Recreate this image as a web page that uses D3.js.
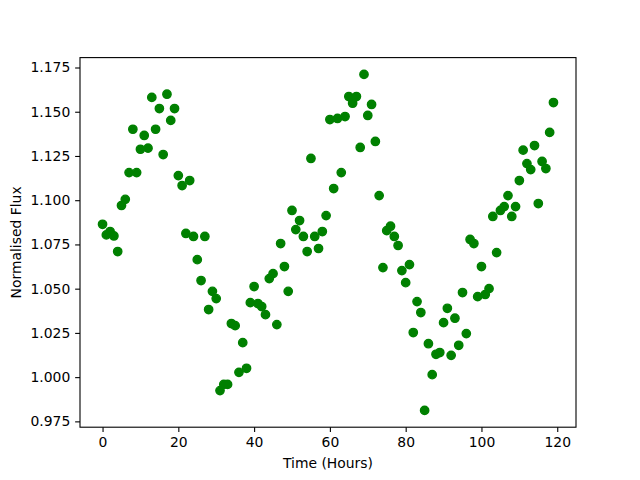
<!DOCTYPE html>
<html><head><meta charset="utf-8">
<script src="https://cdn.jsdelivr.net/npm/d3@7"></script>
<style>body{margin:0;background:#fff}svg{display:block}text{font-family:"DejaVu Sans",sans-serif}</style>
</head><body>
<svg id="c" width="640" height="480"></svg>
<script>
const hours = d3.range(0, 120);
const flux = [
1.0864,1.0804,1.0823,1.0798,1.0710,1.0970,1.1005,1.1156,1.1401,1.1156,
1.1288,1.1366,1.1294,1.1581,1.1401,1.1518,1.1258,1.1599,1.1451,1.1518,
1.1139,1.1083,1.0812,1.1111,1.0795,1.0664,1.0546,1.0795,1.0382,1.0485,
1.0444,0.9924,0.9959,0.9959,1.0303,1.0291,1.0027,1.0195,1.0050,1.0421,
1.0512,1.0416,1.0399,1.0353,1.0557,1.0585,1.0297,1.0755,1.0625,1.0485,
1.0942,1.0834,1.0885,1.0795,1.0710,1.1236,1.0795,1.0727,1.0823,1.0913,
1.1456,1.1066,1.1462,1.1156,1.1473,1.1586,1.1548,1.1586,1.1298,1.1711,
1.1479,1.1541,1.1332,1.1026,1.0619,1.0828,1.0853,1.0795,1.0744,1.0602,
1.0534,1.0636,1.0252,1.0427,1.0365,0.9812,1.0189,1.0014,1.0129,1.0139,
1.0308,1.0389,1.0123,1.0333,1.0180,1.0478,1.0246,1.0778,1.0755,1.0455,
1.0625,1.0467,1.0500,1.0908,1.0704,1.0942,1.0964,1.1026,1.0908,1.0964,
1.1111,1.1283,1.1207,1.1173,1.1309,1.0981,1.1219,1.1179,1.1383,1.1552];
const xTicks = [0,20,40,60,80,100,120];
const yTicks = [0.975,1.000,1.025,1.050,1.075,1.100,1.125,1.150,1.175];
const xLabel = "Time (Hours)";
const yLabel = "Normalised Flux";

const svg = d3.select("#c");
const L = 80, R = 576, T = 57.6, B = 427.2;
const xmin = d3.min(hours), xmax = d3.max(hours), ymin = d3.min(flux), ymax = d3.max(flux);
const xm = (xmax - xmin) * 0.05, ym = (ymax - ymin) * 0.05;
const x = d3.scaleLinear().domain([xmin - xm, xmax + xm]).range([L, R]);
const y = d3.scaleLinear().domain([ymin - ym, ymax + ym]).range([B, T]);

const fs = "13.9px";
const xa = svg.append("g").attr("transform", `translate(0,${B})`)
  .call(d3.axisBottom(x).tickValues(xTicks).tickFormat(d3.format("d")).tickSize(4.86).tickPadding(4.86));
const ya = svg.append("g").attr("transform", `translate(${L},0)`)
  .call(d3.axisLeft(y).tickValues(yTicks).tickFormat(d3.format(".3f")).tickSize(4.86).tickPadding(4.86));
[xa, ya].forEach(a => {
  a.select(".domain").remove();
  a.selectAll("line").attr("stroke", "#000").attr("stroke-width", 1.1);
  a.selectAll("text").attr("font-size", fs).attr("fill", "#000").attr("font-family", "DejaVu Sans");
});

svg.append("g").selectAll("circle").data(hours).join("circle")
  .attr("cx", (d) => x(d)).attr("cy", (d, i) => y(flux[i]))
  .attr("r", 4.17).attr("fill", "#008000").attr("stroke", "#008000").attr("stroke-width", 1.39);

svg.append("rect").attr("x", L).attr("y", T).attr("width", R - L).attr("height", B - T)
  .attr("fill", "none").attr("stroke", "#000").attr("stroke-width", 1.1);

svg.append("text").attr("x", (L + R) / 2).attr("y", 468).attr("text-anchor", "middle")
  .attr("font-size", fs).text(xLabel);
svg.append("text").attr("transform", `translate(21,${(T + B) / 2}) rotate(-90)`)
  .attr("text-anchor", "middle").attr("font-size", fs).text(yLabel);
</script>
</body></html>
